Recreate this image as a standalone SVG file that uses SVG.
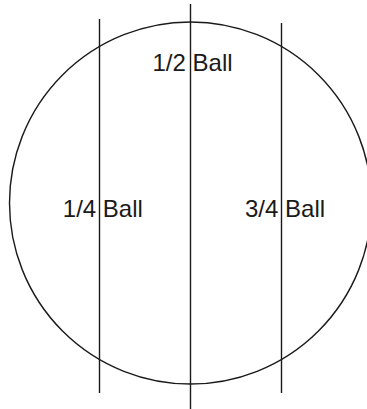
<svg xmlns="http://www.w3.org/2000/svg" width="367" height="409" viewBox="0 0 367 409">
<style>
.ln{stroke:#1a1a1a;stroke-width:1.4;fill:none}
.lb{font-family:"Liberation Sans",Arial,sans-serif;font-size:24px;fill:#1a1a1a}
</style>
<rect width="367" height="409" fill="#fff"/>
<g id="ball">
<circle class="ln" cx="190.5" cy="203" r="181"/>
</g>
<g id="connectors">
<line class="ln" x1="99.5" y1="19" x2="99.5" y2="393"/>
<line class="ln" x1="190.5" y1="4" x2="190.5" y2="409"/>
<line class="ln" x1="281.5" y1="23" x2="281.5" y2="393"/>
</g>
<g id="label-half"><text class="lb" x="152.5" y="70.5">1/2 Ball</text></g>
<g id="label-quarter"><text class="lb" x="62.8" y="217">1/4 Ball</text></g>
<g id="label-three-quarter"><text class="lb" x="245" y="217">3/4 Ball</text></g>
</svg>
